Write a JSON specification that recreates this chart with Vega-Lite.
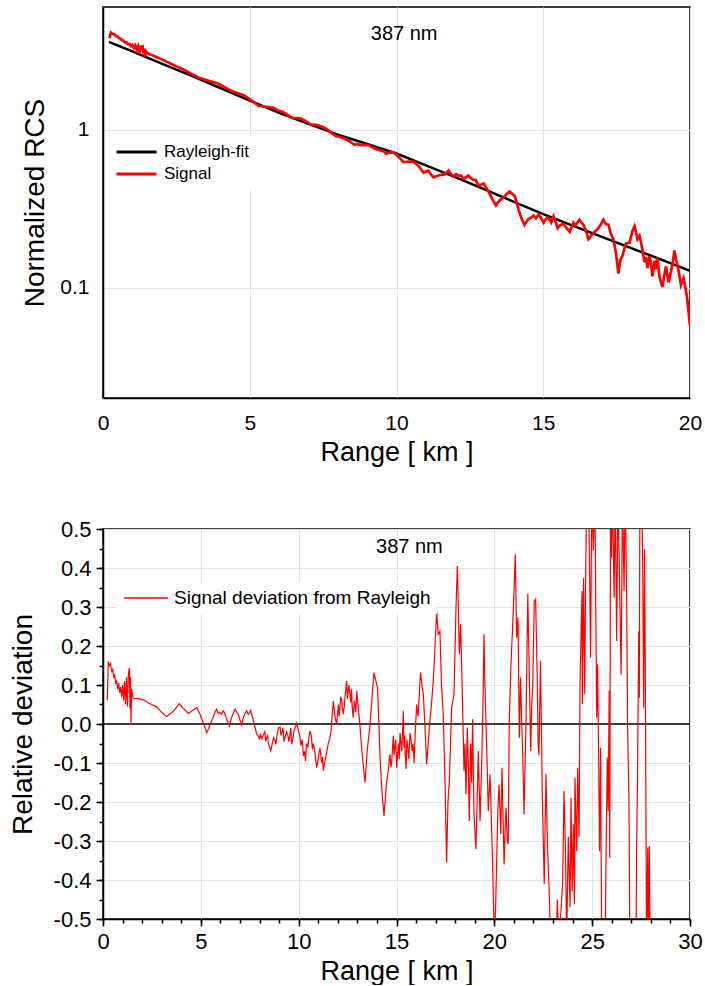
{
  "$schema": "https://vega.github.io/schema/vega-lite/v6.json",
  "padding": {"left": 8, "top": 6, "right": 10, "bottom": 0},
  "spacing": 51,
  "config": {
    "font": "Liberation Sans",
    "view": {"stroke": "black", "strokeWidth": 1.5},
    "axis": {
      "domainColor": "black", "domainWidth": 1.5,
      "gridColor": "#e2e2e2", "gridWidth": 1,
      "labelColor": "black", "titleColor": "black",
      "labelFont": "Liberation Sans", "titleFont": "Liberation Sans",
      "titleFontWeight": "normal", "tickColor": "black", "tickWidth": 1.5,
      "labelFlush": false, "labelOverlap": false, "labelBound": false
    },
    "legend": {"labelFont": "Liberation Sans", "labelColor": "black", "labelLimit": 0}
  },
  "datasets": {
    "fit": [
      {"range": 0.2, "value": 3.606}, {"range": 1, "value": 3.141}, {"range": 2, "value": 2.63},
      {"range": 3, "value": 2.203}, {"range": 4, "value": 1.841}, {"range": 5, "value": 1.531},
      {"range": 6, "value": 1.282}, {"range": 7, "value": 1.091}, {"range": 8, "value": 0.933},
      {"range": 9, "value": 0.813}, {"range": 10, "value": 0.708}, {"range": 11, "value": 0.596},
      {"range": 12, "value": 0.501}, {"range": 13, "value": 0.419}, {"range": 14, "value": 0.35},
      {"range": 15, "value": 0.292}, {"range": 16, "value": 0.247}, {"range": 17, "value": 0.21},
      {"range": 18, "value": 0.178}, {"range": 19, "value": 0.151}, {"range": 20, "value": 0.128}
    ],
    "signal": [
      {"range":0.22,"value":3.812},{"range":0.27,"value":4.133},{"range":0.32,"value":4.061},{"range":0.38,"value":4.037},{"range":0.45,"value":3.921},{"range":0.5,"value":3.904},{"range":0.55,"value":3.802},{"range":0.6,"value":3.786},{"range":0.65,"value":3.687},{"range":0.7,"value":3.671},{"range":0.75,"value":3.574},{"range":0.8,"value":3.592},{"range":0.85,"value":3.481},{"range":0.9,"value":3.499},{"range":0.95,"value":3.391},{"range":1.0,"value":3.455},{"range":1.05,"value":3.3},{"range":1.1,"value":3.425},{"range":1.15,"value":3.211},{"range":1.2,"value":3.395},{"range":1.25,"value":3.14},{"range":1.3,"value":3.365},{"range":1.35,"value":3.377},{"range":1.38,"value":3.054},{"range":1.41,"value":3.271},{"range":1.43,"value":2.91},{"range":1.46,"value":3.155},{"range":1.5,"value":3.09},{"range":1.55,"value":3.038},{"range":1.8,"value":2.903},{"range":2.06,"value":2.764},{"range":2.4,"value":2.577},{"range":2.74,"value":2.409},{"range":3.0,"value":2.269},{"range":3.25,"value":2.147},{"range":3.6,"value":2.043},{"range":3.9,"value":1.972},{"range":4.07,"value":1.894},{"range":4.36,"value":1.769},{"range":4.6,"value":1.706},{"range":4.79,"value":1.659},{"range":4.96,"value":1.581},{"range":5.15,"value":1.491},{"range":5.3,"value":1.42},{"range":5.55,"value":1.4},{"range":5.81,"value":1.377},{"range":5.95,"value":1.332},{"range":6.15,"value":1.294},{"range":6.3,"value":1.24},{"range":6.46,"value":1.185},{"range":6.6,"value":1.188},{"range":6.75,"value":1.18},{"range":6.92,"value":1.133},{"range":7.09,"value":1.074},{"range":7.2,"value":1.079},{"range":7.34,"value":1.07},{"range":7.5,"value":1.039},{"range":7.6,"value":1.018},{"range":7.77,"value":0.959},{"range":7.94,"value":0.912},{"range":8.05,"value":0.904},{"range":8.19,"value":0.884},{"range":8.36,"value":0.857},{"range":8.45,"value":0.834},{"range":8.57,"value":0.803},{"range":8.65,"value":0.811},{"range":8.79,"value":0.801},{"range":8.9,"value":0.804},{"range":9.05,"value":0.801},{"range":9.15,"value":0.78},{"range":9.3,"value":0.753},{"range":9.45,"value":0.741},{"range":9.56,"value":0.733},{"range":9.64,"value":0.706},{"range":9.75,"value":0.718},{"range":9.9,"value":0.719},{"range":10.05,"value":0.681},{"range":10.24,"value":0.624},{"range":10.4,"value":0.628},{"range":10.58,"value":0.629},{"range":10.75,"value":0.591},{"range":10.92,"value":0.536},{"range":11.09,"value":0.551},{"range":11.18,"value":0.519},{"range":11.26,"value":0.5},{"range":11.4,"value":0.512},{"range":11.52,"value":0.519},{"range":11.65,"value":0.522},{"range":11.77,"value":0.552},{"range":11.85,"value":0.525},{"range":11.94,"value":0.506},{"range":12.03,"value":0.524},{"range":12.11,"value":0.512},{"range":12.2,"value":0.513},{"range":12.28,"value":0.489},{"range":12.37,"value":0.502},{"range":12.45,"value":0.513},{"range":12.53,"value":0.494},{"range":12.62,"value":0.483},{"range":12.7,"value":0.482},{"range":12.79,"value":0.442},{"range":12.88,"value":0.449},{"range":12.97,"value":0.457},{"range":13.05,"value":0.432},{"range":13.14,"value":0.405},{"range":13.25,"value":0.368},{"range":13.39,"value":0.332},{"range":13.5,"value":0.356},{"range":13.65,"value":0.373},{"range":13.75,"value":0.392},{"range":13.85,"value":0.407},{"range":13.95,"value":0.392},{"range":14.03,"value":0.38},{"range":14.1,"value":0.344},{"range":14.16,"value":0.311},{"range":14.25,"value":0.277},{"range":14.36,"value":0.25},{"range":14.43,"value":0.262},{"range":14.5,"value":0.273},{"range":14.58,"value":0.277},{"range":14.67,"value":0.286},{"range":14.75,"value":0.275},{"range":14.84,"value":0.291},{"range":14.92,"value":0.278},{"range":15.01,"value":0.258},{"range":15.1,"value":0.273},{"range":15.18,"value":0.277},{"range":15.27,"value":0.259},{"range":15.35,"value":0.284},{"range":15.42,"value":0.264},{"range":15.49,"value":0.238},{"range":15.58,"value":0.249},{"range":15.69,"value":0.254},{"range":15.8,"value":0.237},{"range":15.9,"value":0.226},{"range":16.03,"value":0.258},{"range":16.1,"value":0.248},{"range":16.23,"value":0.269},{"range":16.3,"value":0.259},{"range":16.37,"value":0.25},{"range":16.45,"value":0.23},{"range":16.54,"value":0.203},{"range":16.62,"value":0.212},{"range":16.71,"value":0.223},{"range":16.8,"value":0.23},{"range":16.88,"value":0.238},{"range":16.97,"value":0.253},{"range":17.05,"value":0.269},{"range":17.13,"value":0.253},{"range":17.22,"value":0.251},{"range":17.3,"value":0.22},{"range":17.39,"value":0.202},{"range":17.48,"value":0.165},{"range":17.56,"value":0.123},{"range":17.63,"value":0.151},{"range":17.7,"value":0.159},{"range":17.76,"value":0.176},{"range":17.82,"value":0.191},{"range":17.94,"value":0.193},{"range":18.04,"value":0.229},{"range":18.11,"value":0.245},{"range":18.16,"value":0.225},{"range":18.21,"value":0.203},{"range":18.28,"value":0.213},{"range":18.33,"value":0.194},{"range":18.38,"value":0.174},{"range":18.45,"value":0.145},{"range":18.5,"value":0.156},{"range":18.55,"value":0.133},{"range":18.62,"value":0.159},{"range":18.67,"value":0.143},{"range":18.72,"value":0.118},{"range":18.79,"value":0.148},{"range":18.84,"value":0.131},{"range":18.89,"value":0.155},{"range":18.96,"value":0.117},{"range":19.06,"value":0.101},{"range":19.12,"value":0.118},{"range":19.18,"value":0.136},{"range":19.27,"value":0.108},{"range":19.36,"value":0.129},{"range":19.42,"value":0.148},{"range":19.47,"value":0.172},{"range":19.52,"value":0.152},{"range":19.57,"value":0.139},{"range":19.63,"value":0.122},{"range":19.69,"value":0.104},{"range":19.78,"value":0.115},{"range":19.85,"value":0.0983},{"range":19.9,"value":0.0867},{"range":19.95,"value":0.0709},{"range":20.0,"value":0.0575}
    ],
    "deviation": [
      {"range":0.22,"dev":0.061},{"range":0.27,"dev":0.16},{"range":0.32,"dev":0.15},{"range":0.38,"dev":0.155},{"range":0.45,"dev":0.135},{"range":0.5,"dev":0.14},{"range":0.55,"dev":0.12},{"range":0.6,"dev":0.125},{"range":0.65,"dev":0.105},{"range":0.7,"dev":0.11},{"range":0.75,"dev":0.09},{"range":0.8,"dev":0.105},{"range":0.85,"dev":0.08},{"range":0.9,"dev":0.095},{"range":0.95,"dev":0.07},{"range":1.0,"dev":0.1},{"range":1.05,"dev":0.06},{"range":1.1,"dev":0.11},{"range":1.15,"dev":0.05},{"range":1.2,"dev":0.12},{"range":1.25,"dev":0.045},{"range":1.3,"dev":0.13},{"range":1.35,"dev":0.144},{"range":1.38,"dev":0.04},{"range":1.41,"dev":0.12},{"range":1.43,"dev":0.0},{"range":1.46,"dev":0.09},{"range":1.5,"dev":0.075},{"range":1.55,"dev":0.066},{"range":1.8,"dev":0.065},{"range":2.06,"dev":0.062},{"range":2.4,"dev":0.052},{"range":2.74,"dev":0.044},{"range":3.0,"dev":0.03},{"range":3.25,"dev":0.019},{"range":3.6,"dev":0.033},{"range":3.9,"dev":0.052},{"range":4.07,"dev":0.042},{"range":4.36,"dev":0.027},{"range":4.6,"dev":0.035},{"range":4.79,"dev":0.042},{"range":4.96,"dev":0.025},{"range":5.15,"dev":0.0},{"range":5.3,"dev":-0.022},{"range":5.55,"dev":0.008},{"range":5.81,"dev":0.038},{"range":5.95,"dev":0.03},{"range":6.15,"dev":0.034},{"range":6.3,"dev":0.015},{"range":6.46,"dev":-0.005},{"range":6.6,"dev":0.02},{"range":6.75,"dev":0.038},{"range":6.92,"dev":0.025},{"range":7.09,"dev":-0.002},{"range":7.2,"dev":0.02},{"range":7.34,"dev":0.034},{"range":7.5,"dev":0.03},{"range":7.6,"dev":0.025},{"range":7.77,"dev":-0.009},{"range":7.94,"dev":-0.031},{"range":8.05,"dev":-0.025},{"range":8.19,"dev":-0.028},{"range":8.36,"dev":-0.035},{"range":8.45,"dev":-0.05},{"range":8.57,"dev":-0.069},{"range":8.65,"dev":-0.05},{"range":8.79,"dev":-0.043},{"range":8.9,"dev":-0.025},{"range":9.05,"dev":-0.008},{"range":9.15,"dev":-0.02},{"range":9.3,"dev":-0.035},{"range":9.45,"dev":-0.03},{"range":9.56,"dev":-0.026},{"range":9.64,"dev":-0.052},{"range":9.75,"dev":-0.02},{"range":9.9,"dev":0.002},{"range":10.05,"dev":-0.03},{"range":10.24,"dev":-0.082},{"range":10.4,"dev":-0.05},{"range":10.58,"dev":-0.018},{"range":10.75,"dev":-0.05},{"range":10.92,"dev":-0.112},{"range":11.09,"dev":-0.061},{"range":11.18,"dev":-0.1},{"range":11.26,"dev":-0.12},{"range":11.4,"dev":-0.08},{"range":11.52,"dev":-0.048},{"range":11.65,"dev":-0.02},{"range":11.77,"dev":0.059},{"range":11.85,"dev":0.02},{"range":11.94,"dev":-0.001},{"range":12.03,"dev":0.05},{"range":12.11,"dev":0.042},{"range":12.2,"dev":0.06},{"range":12.28,"dev":0.025},{"range":12.37,"dev":0.07},{"range":12.45,"dev":0.11},{"range":12.53,"dev":0.085},{"range":12.62,"dev":0.076},{"range":12.7,"dev":0.09},{"range":12.79,"dev":0.016},{"range":12.88,"dev":0.05},{"range":12.97,"dev":0.085},{"range":13.05,"dev":0.04},{"range":13.14,"dev":-0.009},{"range":13.25,"dev":-0.08},{"range":13.39,"dev":-0.15},{"range":13.5,"dev":-0.07},{"range":13.65,"dev":0.0},{"range":13.75,"dev":0.07},{"range":13.85,"dev":0.132},{"range":13.95,"dev":0.11},{"range":14.03,"dev":0.093},{"range":14.1,"dev":0.0},{"range":14.16,"dev":-0.086},{"range":14.25,"dev":-0.17},{"range":14.36,"dev":-0.236},{"range":14.43,"dev":-0.19},{"range":14.5,"dev":-0.146},{"range":14.58,"dev":-0.12},{"range":14.67,"dev":-0.078},{"range":14.75,"dev":-0.1},{"range":14.84,"dev":-0.03},{"range":14.92,"dev":-0.06},{"range":15.01,"dev":-0.112},{"range":15.1,"dev":-0.05},{"range":15.18,"dev":-0.023},{"range":15.27,"dev":-0.07},{"range":15.35,"dev":0.033},{"range":15.42,"dev":-0.03},{"range":15.49,"dev":-0.115},{"range":15.58,"dev":-0.06},{"range":15.69,"dev":-0.023},{"range":15.8,"dev":-0.07},{"range":15.9,"dev":-0.1},{"range":16.03,"dev":0.05},{"range":16.1,"dev":0.02},{"range":16.23,"dev":0.132},{"range":16.3,"dev":0.1},{"range":16.37,"dev":0.076},{"range":16.45,"dev":0.0},{"range":16.54,"dev":-0.103},{"range":16.62,"dev":-0.05},{"range":16.71,"dev":0.011},{"range":16.8,"dev":0.06},{"range":16.88,"dev":0.11},{"range":16.97,"dev":0.2},{"range":17.05,"dev":0.29},{"range":17.13,"dev":0.23},{"range":17.22,"dev":0.238},{"range":17.3,"dev":0.1},{"range":17.39,"dev":0.025},{"range":17.48,"dev":-0.15},{"range":17.56,"dev":-0.356},{"range":17.63,"dev":-0.2},{"range":17.7,"dev":-0.146},{"range":17.76,"dev":-0.05},{"range":17.82,"dev":0.042},{"range":17.94,"dev":0.076},{"range":18.04,"dev":0.298},{"range":18.11,"dev":0.405},{"range":18.16,"dev":0.3},{"range":18.21,"dev":0.179},{"range":18.28,"dev":0.256},{"range":18.33,"dev":0.15},{"range":18.38,"dev":0.042},{"range":18.45,"dev":-0.12},{"range":18.5,"dev":-0.05},{"range":18.55,"dev":-0.18},{"range":18.62,"dev":-0.009},{"range":18.67,"dev":-0.1},{"range":18.72,"dev":-0.249},{"range":18.79,"dev":-0.05},{"range":18.84,"dev":-0.15},{"range":18.89,"dev":0.012},{"range":18.96,"dev":-0.23},{"range":19.06,"dev":-0.321},{"range":19.12,"dev":-0.2},{"range":19.18,"dev":-0.069},{"range":19.27,"dev":-0.249},{"range":19.36,"dev":-0.09},{"range":19.42,"dev":0.05},{"range":19.47,"dev":0.23},{"range":19.52,"dev":0.1},{"range":19.57,"dev":0.01},{"range":19.63,"dev":-0.1},{"range":19.69,"dev":-0.223},{"range":19.78,"dev":-0.129},{"range":19.85,"dev":-0.25},{"range":19.9,"dev":-0.334},{"range":19.95,"dev":-0.45},{"range":20.0,"dev":-0.55},{"range":20.06,"dev":-0.48},{"range":20.12,"dev":-0.351},{"range":20.18,"dev":-0.22},{"range":20.24,"dev":-0.155},{"range":20.33,"dev":-0.282},{"range":20.39,"dev":-0.112},{"range":20.45,"dev":-0.25},{"range":20.5,"dev":-0.36},{"range":20.55,"dev":-0.27},{"range":20.6,"dev":-0.215},{"range":20.66,"dev":-0.3},{"range":20.71,"dev":-0.308},{"range":20.76,"dev":0.0},{"range":20.85,"dev":0.153},{"range":20.94,"dev":0.256},{"range":21.0,"dev":0.333},{"range":21.07,"dev":0.435},{"range":21.14,"dev":0.221},{"range":21.21,"dev":0.273},{"range":21.28,"dev":-0.035},{"range":21.34,"dev":0.119},{"range":21.4,"dev":0.0},{"range":21.45,"dev":-0.077},{"range":21.52,"dev":-0.232},{"range":21.57,"dev":-0.1},{"range":21.62,"dev":0.008},{"range":21.71,"dev":0.333},{"range":21.8,"dev":0.093},{"range":21.86,"dev":-0.069},{"range":21.91,"dev":0.05},{"range":21.96,"dev":0.093},{"range":22.04,"dev":0.315},{"range":22.11,"dev":0.32},{"range":22.19,"dev":0.127},{"range":22.24,"dev":-0.05},{"range":22.28,"dev":-0.08},{"range":22.36,"dev":0.162},{"range":22.45,"dev":-0.18},{"range":22.55,"dev":-0.41},{"range":22.6,"dev":-0.25},{"range":22.64,"dev":-0.128},{"range":22.72,"dev":-0.317},{"range":22.8,"dev":-0.42},{"range":22.87,"dev":-0.55},{"range":22.93,"dev":-0.6},{"range":23.0,"dev":-0.6},{"range":23.08,"dev":-0.55},{"range":23.15,"dev":-0.6},{"range":23.22,"dev":-0.45},{"range":23.3,"dev":-0.6},{"range":23.38,"dev":-0.5},{"range":23.49,"dev":-0.41},{"range":23.56,"dev":-0.172},{"range":23.63,"dev":-0.317},{"range":23.7,"dev":-0.55},{"range":23.78,"dev":-0.29},{"range":23.87,"dev":-0.47},{"range":23.92,"dev":-0.189},{"range":23.98,"dev":-0.428},{"range":24.04,"dev":-0.257},{"range":24.09,"dev":-0.462},{"range":24.12,"dev":-0.138},{"range":24.21,"dev":-0.326},{"range":24.26,"dev":-0.112},{"range":24.33,"dev":-0.29},{"range":24.38,"dev":0.102},{"range":24.43,"dev":0.23},{"range":24.48,"dev":0.341},{"range":24.5,"dev":0.051},{"range":24.56,"dev":0.375},{"range":24.62,"dev":0.076},{"range":24.66,"dev":0.34},{"range":24.72,"dev":0.6},{"range":24.8,"dev":0.6},{"range":24.85,"dev":0.46},{"range":24.92,"dev":0.17},{"range":24.98,"dev":0.6},{"range":25.06,"dev":0.444},{"range":25.14,"dev":0.6},{"range":25.23,"dev":0.016},{"range":25.28,"dev":0.153},{"range":25.33,"dev":-0.086},{"range":25.38,"dev":-0.326},{"range":25.43,"dev":-0.061},{"range":25.49,"dev":-0.6},{"range":25.57,"dev":-0.6},{"range":25.66,"dev":-0.6},{"range":25.7,"dev":-0.386},{"range":25.77,"dev":-0.086},{"range":25.82,"dev":-0.223},{"range":25.87,"dev":0.085},{"range":25.9,"dev":-0.343},{"range":25.94,"dev":0.6},{"range":25.99,"dev":0.427},{"range":26.04,"dev":0.6},{"range":26.12,"dev":0.324},{"range":26.18,"dev":0.6},{"range":26.25,"dev":0.213},{"range":26.32,"dev":0.6},{"range":26.42,"dev":0.298},{"range":26.48,"dev":0.127},{"range":26.55,"dev":0.6},{"range":26.63,"dev":0.341},{"range":26.69,"dev":0.6},{"range":26.76,"dev":0.34},{"range":26.81,"dev":0.0},{"range":26.88,"dev":-0.197},{"range":26.93,"dev":-0.6},{"range":27.1,"dev":-0.6},{"range":27.24,"dev":-0.6},{"range":27.27,"dev":-0.326},{"range":27.32,"dev":-0.129},{"range":27.38,"dev":0.238},{"range":27.41,"dev":0.067},{"range":27.44,"dev":0.6},{"range":27.53,"dev":0.6},{"range":27.58,"dev":0.427},{"range":27.63,"dev":0.042},{"range":27.68,"dev":0.448},{"range":27.73,"dev":0.0},{"range":27.78,"dev":-0.6},{"range":27.84,"dev":-0.317},{"range":27.89,"dev":-0.6},{"range":27.92,"dev":-0.313},{"range":27.96,"dev":-0.6},
      {"range":5.05,"dev":0.012},{"range":5.22,"dev":-0.01},{"range":5.4,"dev":-0.012},{"range":5.48,"dev":0.0},{"range":5.65,"dev":0.02},{"range":5.72,"dev":0.03},{"range":5.88,"dev":0.028},{"range":6.05,"dev":0.025},{"range":6.22,"dev":0.028},{"range":6.38,"dev":0.005},{"range":6.53,"dev":0.01},{"range":6.68,"dev":0.03},{"range":6.84,"dev":0.03},{"range":7.0,"dev":0.01},{"range":7.15,"dev":0.012},{"range":7.27,"dev":0.028},{"range":7.42,"dev":0.025},{"range":7.55,"dev":0.035},{"range":7.68,"dev":0.01},{"range":7.85,"dev":-0.025},
      {"range":8.0,"dev":-0.04},{"range":8.12,"dev":-0.038},{"range":8.27,"dev":-0.02},{"range":8.31,"dev":-0.045},{"range":8.41,"dev":-0.03},{"range":8.51,"dev":-0.058},{"range":8.61,"dev":-0.062},{"range":8.72,"dev":-0.035},{"range":8.84,"dev":-0.052},{"range":8.97,"dev":-0.01},{"range":9.1,"dev":-0.03},{"range":9.2,"dev":-0.01},{"range":9.25,"dev":-0.045},{"range":9.38,"dev":-0.02},{"range":9.5,"dev":-0.045},{"range":9.6,"dev":-0.01},{"range":9.7,"dev":-0.04},{"range":9.82,"dev":-0.01},
      {"range":10.12,"dev":-0.055},{"range":10.18,"dev":-0.04},{"range":10.3,"dev":-0.07},{"range":10.35,"dev":-0.095},{"range":10.47,"dev":-0.06},{"range":10.52,"dev":-0.035},{"range":10.65,"dev":-0.03},{"range":10.7,"dev":-0.065},{"range":10.82,"dev":-0.07},{"range":10.87,"dev":-0.09},{"range":11.0,"dev":-0.09},{"range":11.04,"dev":-0.075},{"range":11.13,"dev":-0.08},{"range":11.22,"dev":-0.085},{"range":11.32,"dev":-0.1},{"range":11.46,"dev":-0.065},{"range":11.58,"dev":-0.04},
      {"range":12.07,"dev":0.02},{"range":12.15,"dev":0.07},{"range":12.24,"dev":0.04},{"range":12.33,"dev":0.045},{"range":12.41,"dev":0.09},{"range":12.49,"dev":0.065},{"range":12.57,"dev":0.1},{"range":12.66,"dev":0.055},{"range":12.74,"dev":0.04},{"range":12.84,"dev":0.06},{"range":12.92,"dev":0.03},{"range":13.01,"dev":0.06},
      {"range":14.63,"dev":-0.09},{"range":14.71,"dev":-0.11},{"range":14.8,"dev":-0.06},{"range":14.88,"dev":-0.08},{"range":14.96,"dev":-0.04},{"range":15.05,"dev":-0.08},{"range":15.14,"dev":-0.09},{"range":15.22,"dev":-0.045},{"range":15.31,"dev":-0.02},{"range":15.38,"dev":-0.06},{"range":15.45,"dev":-0.08},{"range":15.53,"dev":-0.04},{"range":15.63,"dev":-0.09},{"range":15.74,"dev":-0.04},{"range":15.85,"dev":-0.05},{"range":15.95,"dev":-0.03}
    ]
  },
  "vconcat": [
    {
      "width": 587,
      "height": 391,
      "layer": [
        {
          "data": {"name": "fit"},
          "mark": {"type": "line", "strokeWidth": 2.5, "clip": true},
          "encoding": {
            "x": {"field": "range", "type": "quantitative",
              "scale": {"domain": [0, 20], "nice": false},
              "axis": {"title": "Range [ km ]", "values": [0, 5, 10, 15, 20], "ticks": false,
                "labelOverlap": false, "labelFlush": false,
                "labelFontSize": 21, "labelPadding": 14, "titleFontSize": 27, "titlePadding": 6, "grid": true}},
            "y": {"field": "value", "type": "quantitative",
              "scale": {"type": "log", "domain": [0.02, 6], "nice": false},
              "axis": {"title": "Normalized RCS", "values": [0.1, 1], "format": "~g", "ticks": false,
                "labelOverlap": false,
                "labelFontSize": 21, "labelPadding": 14, "titleFontSize": 28, "titlePadding": 10, "grid": true}},
            "color": {"datum": "Rayleigh-fit",
              "scale": {"domain": ["Rayleigh-fit", "Signal"], "range": ["black", "#ff0000"]},
              "legend": {"orient": "none", "legendX": 6, "legendY": 129, "title": null,
                "symbolType": "stroke", "symbolSize": 1600, "symbolStrokeWidth": 3,
                "labelFontSize": 17, "clipHeight": 20, "rowPadding": 2, "labelOffset": 6,
                "labelLimit": 0, "fillColor": "white", "padding": 6}}
          }
        },
        {
          "data": {"name": "signal"},
          "mark": {"type": "line", "strokeWidth": 2.7, "clip": true},
          "encoding": {
            "x": {"field": "range", "type": "quantitative"},
            "y": {"field": "value", "type": "quantitative"},
            "color": {"datum": "Signal"}
          }
        },
        {
          "data": {"values": [{"label": "387 nm"}]},
          "mark": {"type": "text", "fontSize": 20, "color": "black", "baseline": "middle", "align": "center"},
          "encoding": {
            "x": {"datum": 10.26},
            "y": {"datum": 4.02},
            "text": {"field": "label"}
          }
        }
      ]
    },
    {
      "width": 587,
      "height": 390,
      "layer": [
        {
          "data": {"values": [{"level": 0}]},
          "mark": {"type": "rule", "color": "black", "strokeWidth": 1.5},
          "encoding": {
            "y": {"field": "level", "type": "quantitative", "axis": null}
          }
        },
        {
          "data": {"name": "deviation"},
          "mark": {"type": "line", "strokeWidth": 1.2, "clip": true},
          "encoding": {
            "x": {"field": "range", "type": "quantitative",
              "scale": {"domain": [0, 30], "nice": false},
              "axis": {"title": "Range [ km ]", "orient": "bottom",
                "values": [0, 5, 10, 15, 20, 25, 30], "tickSize": 7,
                "labelOverlap": false, "labelFlush": false,
                "labelFontSize": 22, "labelPadding": 5, "titleFontSize": 27, "titlePadding": 6, "grid": true}},
            "y": {"field": "dev", "type": "quantitative",
              "scale": {"domain": [-0.5, 0.5], "nice": false},
              "axis": {"title": "Relative deviation", "orient": "left",
                "values": [-0.5,-0.4,-0.3,-0.2,-0.1,0,0.1,0.2,0.3,0.4,0.5], "tickSize": 7,
                "labelExpr": "replace(format(datum.value, '.1f'), '\u2212', '-')",
                "labelOverlap": false,
                "labelFontSize": 22, "labelPadding": 5, "titleFontSize": 28, "titlePadding": 16, "grid": true}},
            "color": {"datum": "Signal deviation from Rayleigh",
              "scale": {"domain": ["Signal deviation from Rayleigh"], "range": ["#ff0000"]},
              "legend": {"orient": "none", "legendX": 14, "legendY": 53, "title": null,
                "symbolType": "stroke", "symbolSize": 1936, "symbolStrokeWidth": 1.5,
                "labelFontSize": 19, "clipHeight": 20, "labelOffset": 5, "labelLimit": 0,
                "fillColor": "white", "padding": 6}}
          }
        },
        {
          "data": {"values": [{"label": "387 nm"}]},
          "mark": {"type": "text", "fontSize": 20, "color": "black", "baseline": "middle", "align": "center"},
          "encoding": {
            "x": {"datum": 15.66,
              "axis": {"title": null, "orient": "bottom", "grid": false, "labels": false, "domain": false,
                "values": [0,1,2,3,4,5,6,7,8,9,10,11,12,13,14,15,16,17,18,19,20,21,22,23,24,25,26,27,28,29,30],
                "tickSize": 4}},
            "y": {"datum": 0.454,
              "axis": {"title": null, "orient": "left", "grid": false, "labels": false, "domain": false,
                "values": [-0.5,-0.45,-0.4,-0.35,-0.3,-0.25,-0.2,-0.15,-0.1,-0.05,0,0.05,0.1,0.15,0.2,0.25,0.3,0.35,0.4,0.45,0.5],
                "tickSize": 4}},
            "text": {"field": "label"}
          }
        }
      ],
      "resolve": {"axis": {"x": "independent", "y": "independent"}}
    }
  ],
  "resolve": {"scale": {"color": "independent"}}
}
